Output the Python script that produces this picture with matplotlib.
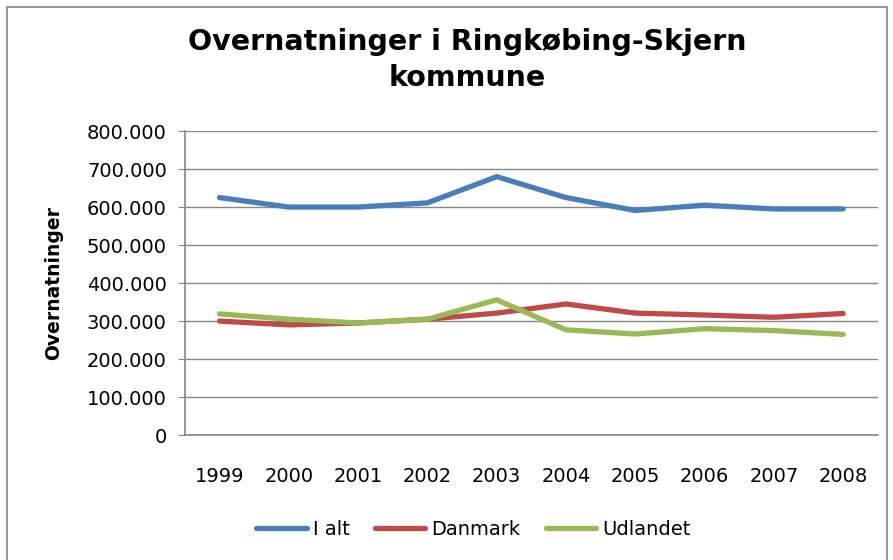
import matplotlib.pyplot as plt
from matplotlib.patches import Rectangle
from matplotlib.ticker import FuncFormatter

years = ["1999", "2000", "2001", "2002", "2003", "2004", "2005", "2006", "2007", "2008"]

i_alt = [625000, 600000, 600000, 611000, 680000, 625000, 591000, 605000, 595000, 595000]
danmark = [300000, 290000, 295000, 305000, 321000, 345000, 321000, 316000, 310000, 320000]
udlandet = [319000, 305000, 295000, 305000, 356000, 277000, 266000, 280000, 275000, 265000]

series = [
    ("I alt", i_alt, "#4A7EBB"),
    ("Danmark", danmark, "#BE4B48"),
    ("Udlandet", udlandet, "#98B954"),
]

fig = plt.figure(figsize=(8.93, 5.6), dpi=100)
ax = fig.add_axes([0.207, 0.223, 0.776, 0.543])

fig.patches.append(
    Rectangle((7 / 893, -0.05), 880 / 893, 1.05 - 7 / 560,
              transform=fig.transFigure, fill=False,
              edgecolor="#868686", linewidth=1.2)
)

x = list(range(len(years)))
for label, values, color in series:
    ax.plot(x, values, label=label, color=color, linewidth=3.8,
            solid_capstyle="round", solid_joinstyle="miter")

ax.set_xlim(-0.5, len(years) - 0.5)
ax.set_ylim(0, 800000)
ax.set_yticks(range(0, 800001, 100000))
ax.yaxis.set_major_formatter(
    FuncFormatter(lambda v, p: "0" if v == 0 else f"{int(v):,}".replace(",", "."))
)
ax.set_xticks(x)
ax.set_xticklabels(years)

ax.grid(axis="y", color="#868686", linewidth=1.0)
ax.set_axisbelow(True)

for side in ["top", "right"]:
    ax.spines[side].set_visible(False)
for side in ["left", "bottom"]:
    ax.spines[side].set_color("#868686")
    ax.spines[side].set_linewidth(1.2)

ax.tick_params(axis="y", length=5, color="#868686", labelsize=14, pad=8)
ax.tick_params(axis="x", length=0, labelsize=14, pad=23)

ax.set_ylabel("Overnatninger", fontsize=13.5, fontweight="bold", labelpad=17)

fig.text(0.523, 0.893, "Overnatninger i Ringkøbing-Skjern\nkommune",
         ha="center", va="center", fontsize=20.5, fontweight="bold",
         linespacing=1.35)

fig.legend(loc="center", bbox_to_anchor=(0.53, 0.054), ncol=3,
           frameon=False, fontsize=14, handlelength=2.6,
           handletextpad=0.3, columnspacing=1.3)

fig.savefig("out.png", dpi=100)
